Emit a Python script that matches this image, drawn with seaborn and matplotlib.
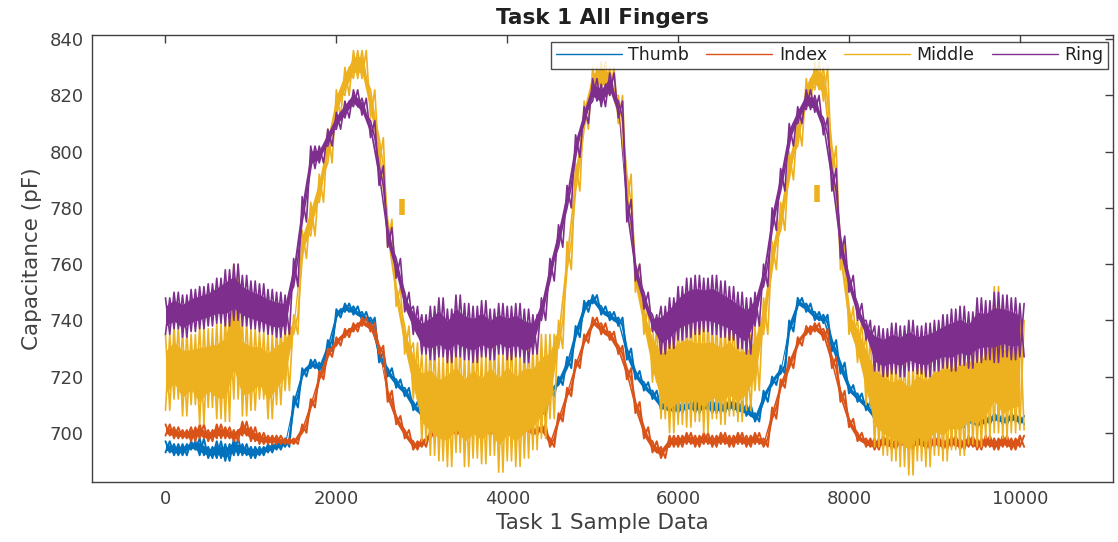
import numpy as np
import pandas as pd
import matplotlib
matplotlib.use("Agg")
import matplotlib.pyplot as plt
import seaborn as sns

# Sample index grid (every 100 samples); each grid step carries the
# lower and upper excursion of the sensor noise around that sample.
SAMPLES = np.arange(0, 10001, 100)

FINGERS = ["Thumb", "Index", "Middle", "Ring"]
COLORS = ["#0072BD", "#D95319", "#EDB120", "#7E2F8E"]

THUMB_LO = [693, 692, 692, 694, 692, 691, 691, 690, 692, 692,
            691, 692, 693, 694, 695, 709, 720, 723, 722, 729,
            741, 743, 742, 740, 738, 725, 720, 716, 713, 708,
            705, 703, 703, 704, 703, 704, 703, 704, 703, 704,
            703, 704, 704, 705, 706, 713, 717, 723, 734, 743,
            746, 742, 740, 738, 726, 719, 715, 712, 708, 707,
            707, 708, 707, 708, 707, 707, 708, 707, 706, 704,
            711, 717, 721, 736, 745, 743, 740, 739, 729, 721,
            714, 711, 708, 704, 703, 702, 701, 702, 701, 702,
            701, 702, 701, 702, 703, 702, 703, 704, 703, 704,
            703]
THUMB_HI = [697, 696, 696, 697, 698, 695, 697, 696, 698, 696,
            695, 695, 696, 697, 698, 713, 723, 726, 725, 733,
            744, 746, 745, 743, 741, 729, 723, 719, 716, 711,
            709, 706, 706, 707, 706, 707, 706, 707, 706, 707,
            706, 707, 707, 708, 709, 716, 720, 727, 738, 747,
            749, 745, 743, 741, 730, 722, 718, 715, 711, 711,
            711, 711, 712, 711, 712, 711, 712, 711, 710, 707,
            715, 720, 724, 740, 748, 746, 743, 742, 733, 725,
            717, 714, 711, 707, 706, 705, 704, 705, 704, 705,
            704, 705, 704, 705, 706, 705, 706, 707, 706, 707,
            706]

INDEX_LO = [699, 698, 698, 697, 698, 697, 698, 698, 697, 699,
            697, 696, 696, 696, 696, 696, 700, 709, 719, 727,
            731, 734, 736, 738, 736, 728, 711, 703, 698, 694,
            695, 698, 700, 700, 699, 700, 701, 700, 699, 700,
            700, 701, 700, 699, 700, 695, 704, 713, 723, 732,
            738, 735, 733, 728, 719, 707, 698, 693, 691, 695,
            695, 696, 695, 696, 695, 696, 695, 696, 695, 696,
            695, 705, 716, 723, 731, 735, 736, 733, 723, 711,
            702, 697, 695, 694, 695, 694, 695, 694, 695, 694,
            695, 694, 695, 694, 695, 694, 695, 694, 695, 694,
            695]
INDEX_HI = [703, 702, 701, 702, 703, 701, 703, 702, 701, 704,
            702, 700, 699, 699, 698, 698, 703, 712, 722, 730,
            734, 737, 739, 741, 739, 731, 715, 706, 701, 697,
            698, 701, 703, 703, 702, 703, 704, 703, 702, 703,
            703, 704, 703, 702, 703, 698, 707, 716, 726, 735,
            741, 739, 736, 731, 723, 711, 702, 697, 695, 699,
            699, 700, 699, 700, 699, 700, 699, 700, 699, 700,
            698, 709, 719, 727, 734, 738, 739, 737, 727, 715,
            705, 700, 698, 698, 699, 698, 699, 698, 699, 698,
            699, 698, 699, 698, 699, 698, 699, 698, 699, 698,
            699]

MIDDLE_LO = [708, 712, 706, 710, 703, 709, 705, 704, 712, 706,
             708, 712, 705, 710, 715, 735, 762, 770, 782, 796,
             812, 820, 826, 826, 812, 795, 766, 745, 728, 712,
             697, 692, 690, 688, 693, 688, 691, 689, 692, 686,
             690, 688, 691, 694, 698, 705, 730, 758, 786, 808,
             820, 822, 820, 810, 782, 750, 735, 718, 705, 700,
             703, 702, 704, 700, 705, 703, 706, 704, 708, 715,
             735, 758, 772, 790, 802, 816, 822, 818, 792, 758,
             735, 725, 710, 695, 692, 690, 688, 685, 690, 688,
             692, 690, 694, 692, 696, 695, 698, 700, 698, 700,
             701]
MIDDLE_HI = [735, 738, 736, 735, 738, 737, 739, 742, 760, 740,
             737, 736, 735, 737, 738, 742, 772, 782, 792, 808,
             822, 830, 836, 836, 822, 805, 776, 752, 738, 732,
             728, 731, 727, 730, 732, 728, 731, 728, 732, 729,
             733, 729, 732, 731, 735, 735, 740, 768, 796, 818,
             830, 832, 830, 820, 792, 760, 745, 738, 735, 738,
             740, 742, 740, 741, 740, 738, 740, 736, 735, 738,
             748, 768, 782, 800, 812, 826, 832, 830, 802, 768,
             745, 740, 735, 730, 728, 726, 728, 725, 729, 727,
             730, 732, 731, 733, 734, 733, 736, 752, 738, 740,
             740]

RING_LO = [735, 737, 734, 736, 737, 738, 739, 738, 740, 738,
           737, 736, 735, 734, 735, 752, 775, 794, 796, 802,
           808, 812, 816, 813, 805, 788, 766, 755, 743, 735,
           728, 726, 727, 725, 727, 726, 725, 727, 726, 728,
           726, 727, 725, 728, 740, 754, 766, 780, 798, 810,
           818, 816, 820, 812, 775, 754, 744, 736, 728, 730,
           733, 734, 735, 736, 735, 734, 733, 730, 728, 738,
           752, 772, 786, 802, 810, 815, 814, 806, 786, 762,
           750, 740, 733, 722, 720, 721, 720, 722, 721, 720,
           722, 723, 722, 724, 723, 725, 726, 725, 727, 726,
           727]
RING_HI = [748, 750, 749, 751, 752, 753, 755, 758, 760, 756,
           754, 753, 751, 750, 749, 762, 784, 802, 802, 808,
           814, 818, 822, 819, 811, 795, 773, 762, 750, 745,
           742, 745, 748, 744, 749, 746, 745, 747, 744, 746,
           745, 746, 744, 742, 748, 762, 774, 788, 806, 816,
           826, 824, 828, 818, 783, 760, 750, 742, 745, 748,
           752, 755, 756, 755, 756, 754, 752, 750, 748, 750,
           760, 780, 794, 810, 816, 822, 820, 812, 794, 770,
           756, 746, 740, 738, 737, 739, 738, 740, 738, 739,
           740, 742, 744, 745, 743, 748, 747, 750, 749, 748,
           746]

# Two isolated Middle-sensor readings away from the main trace
MIDDLE_STRAY_X = [2770, 7620]
MIDDLE_STRAY_LO = [777.5, 782.0]
MIDDLE_STRAY_HI = [783.0, 788.0]

X_TICKS = [0, 2000, 4000, 6000, 8000, 10000]
Y_TICKS = [700, 720, 740, 760, 780, 800, 820, 840]


def noisy_trace(first, second):
    """Alternate two excursion arrays along the sample grid."""
    x = np.column_stack([SAMPLES, SAMPLES + 50]).ravel()
    y = np.column_stack([first, second]).ravel()
    return x, y


series = {
    "Thumb": (THUMB_LO, THUMB_HI),
    "Index": (INDEX_LO, INDEX_HI),
    "Middle": (MIDDLE_LO, MIDDLE_HI),
    "Ring": (RING_LO, RING_HI),
}
line_widths = {"Thumb": 1.4, "Index": 1.4, "Middle": 1.2, "Ring": 1.2}

sns.set_theme(style="white")
plt.rcParams["font.family"] = ["DejaVu Sans"]
AX_COLOR = "#404040"

fig = plt.figure(figsize=(11.18, 5.42), dpi=100)
ax = fig.add_axes([0.0823, 0.1107, 0.9132, 0.8247])

for k, (name, color) in enumerate(zip(FINGERS, COLORS)):
    lo = np.asarray(series[name][0], dtype=float)
    hi = np.asarray(series[name][1], dtype=float)
    base = 2 + 3 * k
    # dense core of the noise band
    span = hi - lo
    ax.fill_between(SAMPLES, lo + 0.22 * span, hi - 0.22 * span,
                    color=color, linewidth=0, zorder=base)
    # spikes out to the low / high excursions, in two phases
    x1, y1 = noisy_trace(lo, hi)
    x2, y2 = noisy_trace(hi, lo)
    df1 = pd.DataFrame({"sample": x1, "capacitance": y1})
    df2 = pd.DataFrame({"sample": x2, "capacitance": y2})
    sns.lineplot(data=df1, x="sample", y="capacitance", color=color,
                 linewidth=line_widths[name], estimator=None, sort=False,
                 label=name, ax=ax, zorder=base + 1)
    sns.lineplot(data=df2, x="sample", y="capacitance", color=color,
                 linewidth=line_widths[name], estimator=None, sort=False,
                 ax=ax, zorder=base + 1)

for sx, slo, shi in zip(MIDDLE_STRAY_X, MIDDLE_STRAY_LO, MIDDLE_STRAY_HI):
    ax.plot([sx, sx], [slo, shi], color=COLORS[2], linewidth=4,
            solid_capstyle="butt", zorder=8)

ax.set_xlim(-860, 11090)
ax.set_ylim(682.5, 841.5)
ax.set_xticks(X_TICKS)
ax.set_yticks(Y_TICKS)
ax.tick_params(direction="in", length=6, width=1, colors=AX_COLOR,
               labelsize=13, top=True, right=True, pad=6)
for sp in ax.spines.values():
    sp.set_visible(True)
    sp.set_color(AX_COLOR)
    sp.set_linewidth(1.0)
    sp.set_zorder(20)

ax.set_title("Task 1 All Fingers", fontsize=15.5, fontweight="bold",
             color="#202020", pad=8)
ax.set_xlabel("Task 1 Sample Data", fontsize=15.5, color=AX_COLOR, labelpad=3)
ax.set_ylabel("Capacitance (pF)", fontsize=15.5, color=AX_COLOR, labelpad=5)

handles, labels = ax.get_legend_handles_labels()
leg = ax.legend(handles, labels, ncol=4, loc="upper right",
                bbox_to_anchor=(1 - 5 / 1021, 1 - 7 / 447),
                borderaxespad=0, frameon=True, fancybox=False,
                edgecolor="#202020", fontsize=12.5, handlelength=3.8,
                handletextpad=0.37, columnspacing=1.0, borderpad=0.25)
leg.get_frame().set_linewidth(1.0)
leg.set_zorder(30)
for line in leg.get_lines():
    line.set_linewidth(1.0)
for t in leg.get_texts():
    t.set_color("#202020")

fig.savefig("out.png", dpi=100, facecolor="white")
